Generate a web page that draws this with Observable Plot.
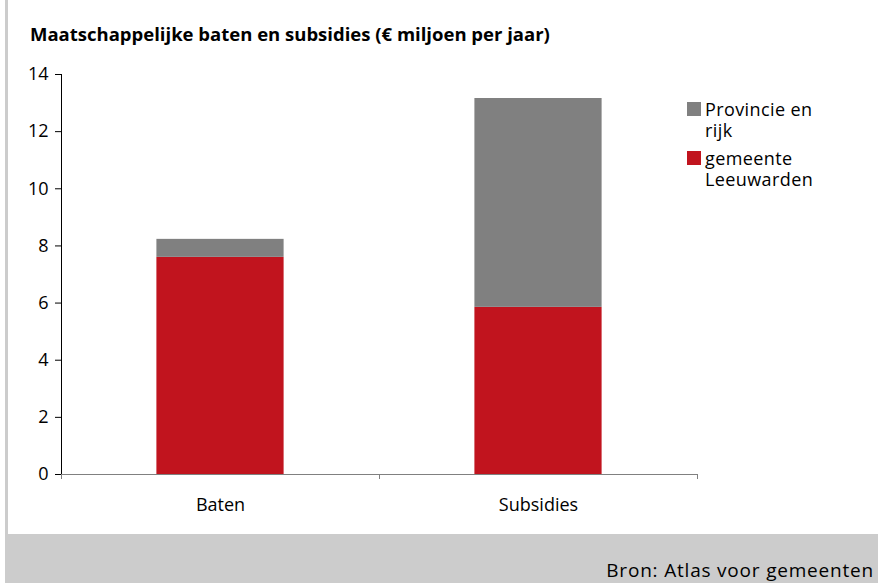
<!DOCTYPE html>
<html>
<head>
<meta charset="utf-8">
<script src="https://cdn.jsdelivr.net/npm/d3@7"></script>
<script src="https://cdn.jsdelivr.net/npm/@observablehq/plot@0.6"></script>
<style>
  html, body { margin: 0; padding: 0; background: #fff; }
  #page { position: relative; width: 878px; height: 583px; overflow: hidden; font-family: "Open Sans", sans-serif; background: #fff; }
  #leftborder { position: absolute; left: 5px; top: 0; width: 3px; height: 534px; background: #cccccc; }
  #footer { position: absolute; left: 5px; top: 534px; width: 873px; height: 49px; background: #cccccc; }
  #source { position: absolute; right: 4px; top: 561px; font-size: 19px; letter-spacing: 0.8px; color: #000; white-space: nowrap; line-height: 1; }
  #title { position: absolute; left: 30px; top: 25px; font-size: 18.5px; font-weight: 700; color: #000; white-space: nowrap; line-height: 1; }
  #chart { position: absolute; left: 0; top: 0; }
  #legend { position: absolute; left: 687px; top: 99px; font-size: 18px; line-height: 21px; letter-spacing: 0.4px; color: #000; }
  .item { position: relative; padding-left: 18px; margin-bottom: 7px; white-space: nowrap; }
  .sw { position: absolute; left: 0; top: 3px; width: 14px; height: 14px; }
</style>
</head>
<body>
<div id="page">
  <div id="leftborder"></div>
  <div id="chart"></div>
  <div id="title"></div>
  <div id="legend"></div>
  <div id="footer"></div>
  <div id="source"></div>
</div>
<script>
const titleText = "Maatschappelijke baten en subsidies (€ miljoen per jaar)";
const sourceText = "Bron: Atlas voor gemeenten";
const categories = ["Baten", "Subsidies"];
const seriesNames = ["gemeente Leeuwarden", "Provincie en rijk"];
const legendLabels = [["Provincie en", "rijk"], ["gemeente", "Leeuwarden"]];
const gemeenteValues = [7.6, 5.85];
const provincieValues = [0.63, 7.31];
const yTicks = [0, 2, 4, 6, 8, 10, 12, 14];
const colors = ["#c1141e", "#808080"];

const data = [];
categories.forEach((c, i) => {
  data.push({category: c, series: seriesNames[0], value: gemeenteValues[i]});
  data.push({category: c, series: seriesNames[1], value: provincieValues[i]});
});

document.getElementById("title").textContent = titleText;
document.getElementById("source").textContent = sourceText;

const legendOrder = [1, 0];
const legend = document.getElementById("legend");
legendOrder.forEach((k, j) => {
  const item = document.createElement("div");
  item.className = "item";
  const sw = document.createElement("div");
  sw.className = "sw";
  sw.style.background = colors[k];
  item.appendChild(sw);
  const txt = document.createElement("div");
  legendLabels[j].forEach((line, li) => {
    if (li > 0) txt.appendChild(document.createElement("br"));
    txt.appendChild(document.createTextNode(line));
  });
  item.appendChild(txt);
  legend.appendChild(item);
});

const W = 878, H = 534, mL = 61, mR = 181, mT = 74, mB = 60;
const bw = (W - mL - mR) / categories.length;
const inset = bw * 0.3;

const chart = Plot.plot({
  width: W, height: H,
  marginLeft: mL, marginRight: mR, marginTop: mT, marginBottom: mB,
  style: {fontFamily: "Open Sans, sans-serif", fontSize: "18px", color: "#000", background: "transparent"},
  x: {domain: categories, padding: 0, label: null},
  y: {domain: [0, 14], label: null},
  color: {domain: seriesNames, range: colors},
  marks: [
    Plot.barY(data, {x: "category", y: "value", fill: "series", insetLeft: inset, insetRight: inset}),
    Plot.ruleY([0], {stroke: "#808080", strokeWidth: 1}),
    Plot.axisX({ticks: categories, tickSize: 5, tickFormat: () => "", dx: -bw / 2, stroke: "#808080"}),
    Plot.axisX({ticks: categories, tickSize: 5, tickFormat: () => "", dx: bw / 2, stroke: "#808080"}),
    Plot.axisX({ticks: categories, tickSize: 0, tickPadding: 24, fontSize: 18, label: null}),
    Plot.ruleX([categories[0]], {y1: 0, y2: 14, dx: -bw / 2, stroke: "#000"}),
    Plot.axisY({ticks: yTicks, tickSize: 6, tickPadding: 7, fontSize: 18, label: null, tickFormat: d => String(d), stroke: "#000"})
  ]
});
document.getElementById("chart").appendChild(chart);
</script>
</body>
</html>
